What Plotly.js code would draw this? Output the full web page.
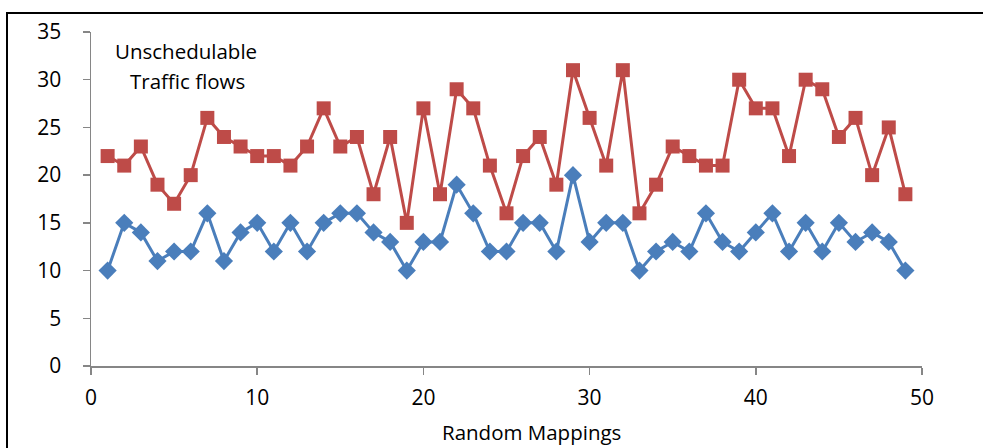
<!DOCTYPE html>
<html>
<head>
<meta charset="utf-8">
<script src="https://cdn.plot.ly/plotly-3.0.1.min.js"></script>
<style>
  html, body { margin: 0; padding: 0; background: #fff; }
  #wrap { position: relative; width: 983px; height: 448px; overflow: hidden; }
  #chart { width: 983px; height: 448px; }
  #frame { position: absolute; left: 6px; top: 12px; width: 1000px; height: 500px;
           border-left: 2px solid #000; border-top: 2px solid #000; pointer-events: none; }
</style>
</head>
<body>
<div id="wrap">
  <div id="chart"></div>
  <div id="frame"></div>
</div>
<script>
// Random mapping index
const mappings = [1,2,3,4,5,6,7,8,9,10,11,12,13,14,15,16,17,18,19,20,21,22,23,24,25,
                  26,27,28,29,30,31,32,33,34,35,36,37,38,39,40,41,42,43,44,45,46,47,48,49];
// Lower (blue, diamond) series
const blueSeries = [10,15,14,11,12,12,16,11,14,15,12,15,12,15,16,16,14,13,10,13,13,19,16,12,12,
                    15,15,12,20,13,15,15,10,12,13,12,16,13,12,14,16,12,15,12,15,13,14,13,10];
// Upper (red, square) series
const redSeries = [22,21,23,19,17,20,26,24,23,22,22,21,23,27,23,24,18,24,15,27,18,29,27,21,16,
                   22,24,19,31,26,21,31,16,19,23,22,21,21,30,27,27,22,30,29,24,26,20,25,18];
const xTicks = [0,10,20,30,40,50];
const yTicks = [0,5,10,15,20,25,30,35];
const annotationLines = ["Unschedulable", "Traffic flows"];
const xTitle = "Random Mappings";

const font = "'Open Sans', Lato, sans-serif";

const traces = [
  {
    x: mappings, y: blueSeries, type: 'scatter', mode: 'lines+markers',
    line: {color: '#4A7EBB', width: 3},
    marker: {symbol: 'diamond', size: 14, color: '#4A7EBB', line: {width: 0}},
    cliponaxis: false, hoverinfo: 'skip'
  },
  {
    x: mappings, y: redSeries, type: 'scatter', mode: 'lines+markers',
    line: {color: '#BE4B48', width: 3},
    marker: {symbol: 'square', size: 14, color: '#BE4B48', line: {width: 0}},
    cliponaxis: false, hoverinfo: 'skip'
  }
];

const axisCommon = {
  showgrid: false, zeroline: false, showline: true,
  linecolor: '#868686', linewidth: 1.5,
  ticks: 'outside', ticklen: 7, tickcolor: '#868686', tickwidth: 1.5,
  tickfont: {family: font, size: 21, color: '#000'}
};

const layout = {
  width: 983, height: 448,
  margin: {l: 91, r: 61, t: 32, b: 82},
  paper_bgcolor: '#fff', plot_bgcolor: '#fff',
  showlegend: false,
  xaxis: Object.assign({}, axisCommon, {
    range: [0, 50], tickvals: xTicks, ticktext: xTicks.map(String),
    ticklabelstandoff: 5
  }),
  yaxis: Object.assign({}, axisCommon, {
    range: [0, 35], tickvals: yTicks, ticktext: yTicks.map(String),
    ticklabelstandoff: 17
  }),
  annotations: [
    {text: annotationLines[0], xref: 'paper', yref: 'paper', x: 0.1143, y: 0.943,
     showarrow: false, xanchor: 'center', yanchor: 'middle',
     font: {family: font, size: 20.5, color: '#000'}},
    {text: annotationLines[1], xref: 'paper', yref: 'paper', x: 0.1167, y: 0.853,
     showarrow: false, xanchor: 'center', yanchor: 'middle',
     font: {family: font, size: 20.5, color: '#000'}},
    {text: xTitle, xref: 'paper', yref: 'paper', x: 0.5295, y: -0.197,
     showarrow: false, xanchor: 'center', yanchor: 'middle',
     font: {family: font, size: 20.5, color: '#000'}}
  ]
};

Plotly.newPlot('chart', traces, layout, {staticPlot: true, displayModeBar: false});
</script>
</body>
</html>
